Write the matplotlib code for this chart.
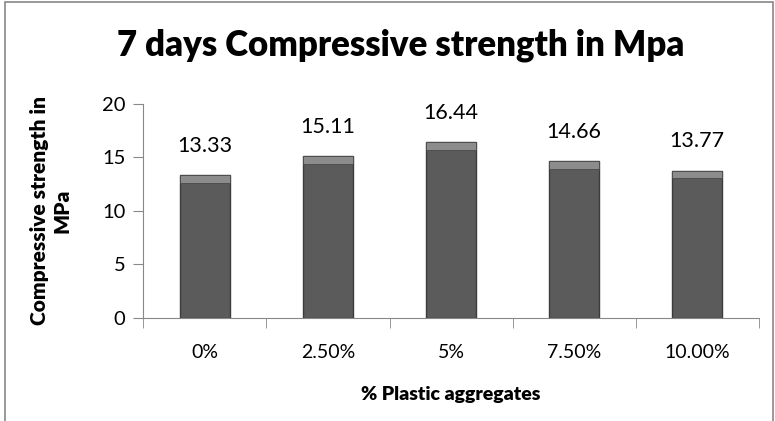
import matplotlib.pyplot as plt
from matplotlib.patches import Rectangle

plt.rcParams['font.family'] = ['Lato', 'DejaVu Sans']

categories = ["0%", "2.50%", "5%", "7.50%", "10.00%"]
strength = [13.33, 15.11, 16.44, 14.66, 13.77]

fig = plt.figure(figsize=(7.75, 4.21), dpi=100)
ax = fig.add_axes([0.185, 0.245, 0.794, 0.508])

x = range(len(categories))
bars = ax.bar(x, strength, width=0.41, color='#5b5b5b', edgecolor='#3c3c3c', linewidth=1.0, zorder=2)
# lighter cap on top of each bar (bevel look)
ax.bar(x, [0.7] * len(strength), bottom=[v - 0.7 for v in strength], width=0.41,
       color='#8c8c8c', edgecolor='#4a4a4a', linewidth=0.6, zorder=3)

for xi, v in zip(x, strength):
    ax.annotate(f"{v:.2f}", (xi, v), xytext=(0, 14), textcoords='offset points',
                ha='center', va='bottom', fontsize=15.5)

ax.set_xlim(-0.5, len(categories) - 0.5)
ax.set_ylim(0, 20)
ax.set_yticks([0, 5, 10, 15, 20])
ax.set_xticks(x)
ax.set_xticklabels(categories)
ax.set_xticks([i - 0.5 for i in range(len(categories) + 1)], minor=True)
ax.tick_params(axis='x', which='major', length=0, pad=19, labelsize=14)
ax.tick_params(axis='x', which='minor', length=7, color='#888888', direction='out')
ax.tick_params(axis='y', length=7, color='#888888', labelsize=14.5, pad=6)

for s in ['top', 'right']:
    ax.spines[s].set_visible(False)
for s in ['left', 'bottom']:
    ax.spines[s].set_color('#888888')

ax.set_xlabel("% Plastic aggregates", fontsize=14, fontweight='heavy', labelpad=18)
ax.set_ylabel("Compressive strength in\nMPa", fontsize=15, fontweight='heavy', labelpad=22)
fig.text(0.517, 0.893, "7 days Compressive strength in Mpa", ha='center', va='center',
         fontsize=25, fontweight='heavy')

# chart border
fig.patches.append(Rectangle((0.006, -0.1), 0.991, 1.095, transform=fig.transFigure,
                             fill=False, edgecolor='#888888', linewidth=1.2))

fig.savefig("out.png", dpi=100)
